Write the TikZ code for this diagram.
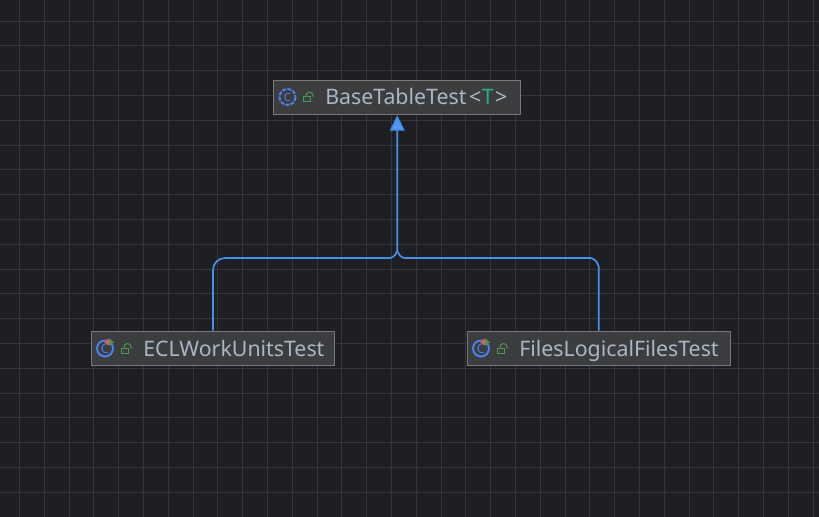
\documentclass[tikz,border=0pt]{standalone}
\usepackage{fontspec}
\setmainfont{Noto Sans}
\usetikzlibrary{arrows.meta,calc}
\definecolor{canvasbg}{HTML}{1E1F22}
\definecolor{gridline}{HTML}{353639}
\definecolor{boxfill}{HTML}{3C3D3E}
\definecolor{boxline}{HTML}{77787A}
\definecolor{nametext}{HTML}{A9B7C6}
\definecolor{typetext}{HTML}{2AAB8E}
\definecolor{edgeblue}{HTML}{4490EC}
\definecolor{tipblue}{HTML}{5497F5}
\definecolor{iconblue}{HTML}{4A80E8}
\definecolor{lockgreen}{HTML}{4C9A50}
\definecolor{markred}{HTML}{DB5C5C}
\tikzset{
    classbox/.style={draw=boxline, fill=boxfill, line width=0.8pt, minimum height=26pt, inner sep=0pt},
    classname/.style={anchor=base west, inner sep=0pt, text=nametext, font=\fontsize{16pt}{18pt}\selectfont},
    inherit/.style={draw=edgeblue, line width=1.25pt},
}
% c icon and lock of a class row, placed from the left edge of the row
\newcommand{\lockicon}[1]{
    \draw[lockgreen, line width=0.75pt] ($(#1)+(0,3)$) rectangle ++(7,5);
    \draw[lockgreen, line width=0.75pt] ($(#1)+(3,3)$) -- ++(0,-1.5) arc (180:0:3.5 and -3.5) -- ++(0,1.5);
}
\newcommand{\classicon}[3]{
    \draw[iconblue, line width=1.5pt, #2] (#1) circle (8);
    \node[inner sep=0pt, text=iconblue, font=\bfseries\fontsize{#3}{10pt}\selectfont] at (#1) {C};
}
\newcommand{\markers}[1]{
    \fill[markred] ($(#1)+(-1,-6.5)$) -- ++(5,-3.5) -- ++(0,7) -- cycle;
    \fill[lockgreen] ($(#1)+(4,-10)$) -- ++(5,4) -- ++(-5,3) -- cycle;
}
\begin{document}
\begin{tikzpicture}[x=0.75pt,y=-0.75pt]
    \useasboundingbox (0,0) rectangle (819,517);
    \fill[canvasbg] (0,0) rectangle (819,517);
    \foreach \i in {0,...,32} {
        \pgfmathsetmacro{\gx}{floor(19.5+24.8*\i)+0.5}
        \draw[gridline, line width=0.75pt] (\gx,0) -- (\gx,517);
    }
    \foreach \j in {0,...,20} {
        \pgfmathsetmacro{\gy}{floor(21+24.8*\j)+0.5}
        \draw[gridline, line width=0.75pt] (0,\gy) -- (819,\gy);
    }

    \node[classbox, minimum width=185.5pt] (base) at (397.25,97.5) {};
    \node[classbox, minimum width=182pt] (ecl) at (213,348.5) {};
    \node[classbox, minimum width=197.5pt] (files) at (598.75,348.5) {};

    \classicon{287.5,97}{dash pattern=on 3pt off 1pt}{8.5pt}
    \lockicon{303,94}
    \node[classname] (basename) at (325,104.5) {BaseTableTest\kern2pt<\kern0.5pt\textcolor{typetext}{T}\kern1pt>};

    \classicon{105,348.5}{}{10pt}
    \markers{105,348.5}
    \lockicon{121,345.5}
    \node[classname] (eclname) at (143,356) {ECLWorkUnitsTest};

    \classicon{481,348.5}{}{10pt}
    \markers{481,348.5}
    \lockicon{497,345.5}
    \node[classname] (filesname) at (519,356) {FilesLogicalFilesTest};

    % the two inheritance lines meet under the arrow head
    \coordinate (join) at (base.south |- 0,251);
    \draw[inherit] (ecl.north) -- ($(ecl.north |- 0,258)+(0,12)$)
        arc (180:90:12 and -12) -- ($(join)+(-7,7)$) .. controls ($(join)+(-3,6)$) and ($(join)+(-1,3)$) .. (join);
    \draw[inherit, -{Triangle[length=11.5pt,width=11pt,fill=tipblue]}] (files.north) -- ($(files.north |- 0,258)+(0,9)$)
        .. controls ($(files.north |- 0,258)+(-1,4)$) and ($(files.north |- 0,258)+(-4,1)$) .. ($(files.north |- 0,258)+(-8,0)$)
        -- ($(join)+(7,7)$) .. controls ($(join)+(3,6)$) and ($(join)+(1,3)$) .. (join) -- (base.south);
\end{tikzpicture}
\end{document}
